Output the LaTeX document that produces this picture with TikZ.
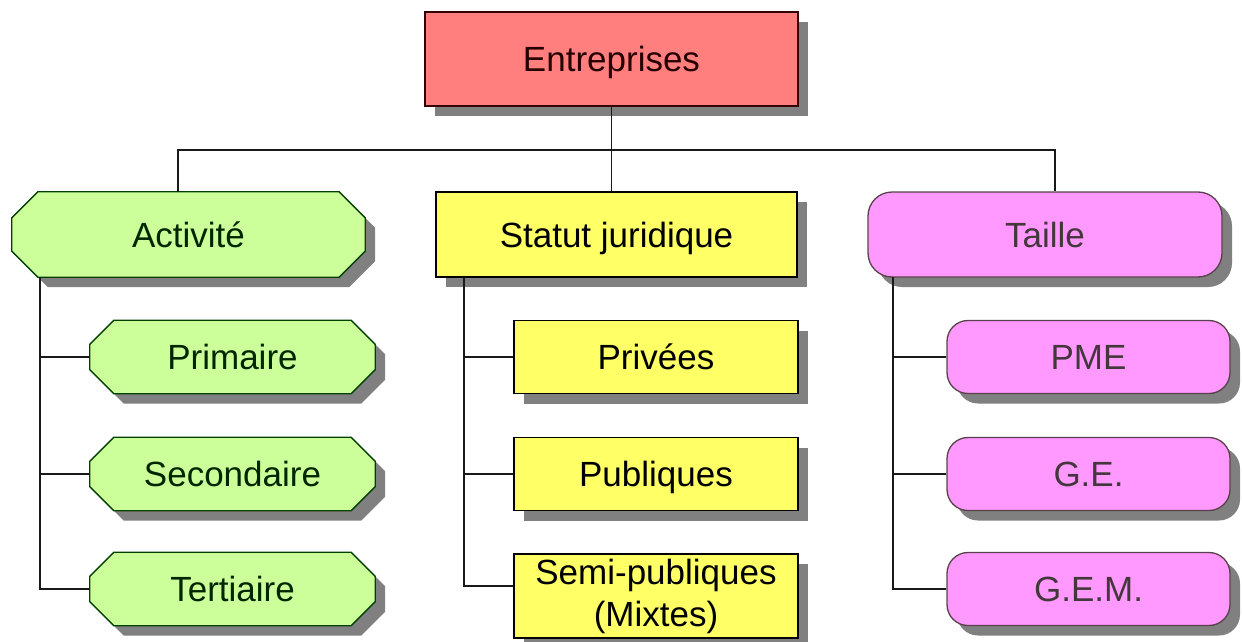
\documentclass[tikz,border=0pt]{standalone}
\usepackage{fontspec}
\setmainfont{Liberation Sans}
\usetikzlibrary{shadows,backgrounds}
\definecolor{cred}{HTML}{FF7F7F}
\definecolor{cgreen}{HTML}{CCFF99}
\definecolor{cyellow}{HTML}{FFFF66}
\definecolor{cpink}{HTML}{FF99FF}
\definecolor{shd}{HTML}{808080}
\tikzset{
  txt/.style={font=\fontsize{35}{42}\selectfont, inner sep=0pt, align=center,
    text height=25pt, text depth=0pt},
  base/.style={txt, line width=1.3pt,
    drop shadow={shadow xshift=10pt, shadow yshift=-10pt, fill=shd, opacity=1}},
  redbox/.style={base, rectangle, draw=black!80!red, fill=cred, text=black!85!red},
  greentext/.style={txt, rectangle, text=black!85!green},
  greenfill/.style={line width=1.3pt, draw=black!75!green, fill=cgreen},
  shadowfill/.style={fill=shd},
  yellowbox/.style={base, rectangle, draw=black, fill=cyellow, text=black},
  pinkbox/.style={base, rectangle, rounded corners=24pt, draw=black!75!magenta, fill=cpink, text=black!85!magenta},
  link/.style={line width=1.5pt, draw=black!90}
}
% octagon outline around a node: #1 node, #2 chamfer, #3 dx, #4 dy
\newcommand\octpath[4]{([xshift={#2+#3},yshift={#4}]#1.north west) -- ([xshift={-#2+#3},yshift={#4}]#1.north east) -- ([xshift={#3},yshift={-#2+#4}]#1.north east) -- ([xshift={#3},yshift={#2+#4}]#1.south east) -- ([xshift={-#2+#3},yshift={#4}]#1.south east) -- ([xshift={#2+#3},yshift={#4}]#1.south west) -- ([xshift={#3},yshift={#2+#4}]#1.south west) -- ([xshift={#3},yshift={-#2+#4}]#1.north west) -- cycle}
\begin{document}
\begin{tikzpicture}[x=1pt,y=-1pt]
\useasboundingbox (0,0) rectangle (1242,642);
% top
\node[redbox, minimum width=373pt, minimum height=94pt] (ent) at (611.5,59) {Entreprises};
% level 1
\node[greentext, minimum width=353pt, minimum height=85pt] (act) at (188.5,234.5) {Activité};
\node[yellowbox, minimum width=361pt, minimum height=85pt] (sta) at (616.5,234.5) {Statut juridique};
\node[pinkbox, minimum width=354pt, minimum height=85pt] (tai) at (1045,234.5) {Taille};
% level 2 : activite
\node[greentext, minimum width=285pt, minimum height=73pt] (pri) at (232.5,357) {Primaire};
\node[greentext, minimum width=285pt, minimum height=73pt] (sec) at (232.5,474) {Secondaire};
\node[greentext, minimum width=285pt, minimum height=73pt] (ter) at (232.5,589) {Tertiaire};
% statut
\node[yellowbox, minimum width=284pt, minimum height=73pt] (prv) at (656,357) {Privées};
\node[yellowbox, minimum width=284pt, minimum height=73pt] (pub) at (656,474) {Publiques};
\node[yellowbox, text height=, text depth=, minimum width=284pt, minimum height=84pt] (semi) at (656,596) {Semi-publiques\\(Mixtes)};
% taille
\node[pinkbox, rounded corners=21pt, minimum width=283pt, minimum height=73pt] (pme) at (1088.5,357) {PME};
\node[pinkbox, rounded corners=21pt, minimum width=283pt, minimum height=73pt] (ge) at (1088.5,474) {G.E.};
\node[pinkbox, rounded corners=21pt, minimum width=283pt, minimum height=73pt] (gem) at (1088.5,589) {G.E.M.};
% octagons behind the green texts
\begin{scope}[on background layer]
  \fill[shadowfill] \octpath{act}{26pt}{10pt}{-10pt};
  \path[greenfill] \octpath{act}{26pt}{0pt}{0pt};
  \foreach \n in {pri,sec,ter}{
    \fill[shadowfill] \octpath{\n}{24pt}{10pt}{-10pt};
    \path[greenfill] \octpath{\n}{24pt}{0pt}{0pt};
  }
\end{scope}
% connectors
\coordinate (bus) at (611.5,150);
\coordinate (sa) at (40,277);
\coordinate (ss) at (464,277);
\coordinate (st) at (893,277);
\draw[link] (ent.south) -- (ent.south |- sta.north);
\draw[link] ([xshift=-10.5pt]act.north) |- (bus) -| ([xshift=10pt]tai.north);
\draw[link] (sa) |- (pri.west);
\draw[link] (sa) |- (sec.west);
\draw[link] (sa) |- (ter.west);
\draw[link] (ss) |- (prv.west);
\draw[link] (ss) |- (pub.west);
\draw[link] (ss) |- ([yshift=10pt]semi.west);
\draw[link] (st) |- (pme.west);
\draw[link] (st) |- (ge.west);
\draw[link] (st) |- (gem.west);
\end{tikzpicture}
\end{document}
